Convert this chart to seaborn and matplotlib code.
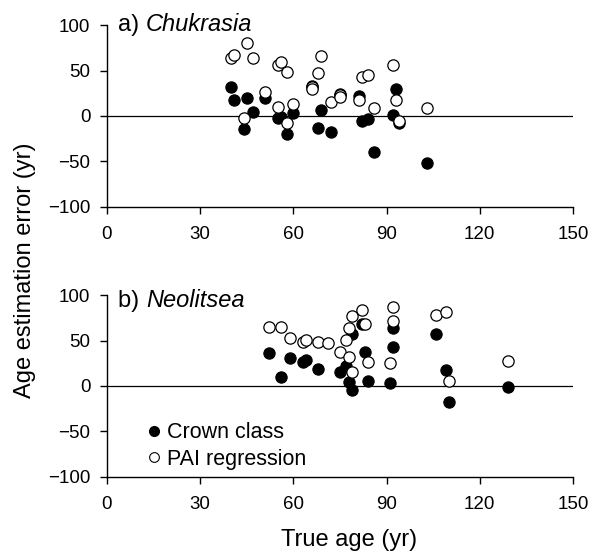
import matplotlib
matplotlib.use("Agg")
import matplotlib.pyplot as plt
import seaborn as sns
import pandas as pd
from matplotlib.lines import Line2D

# ---- data ----
chuk_crown_age = [40, 41, 44, 45, 47, 51, 55, 56, 58, 60, 66, 68, 69, 72, 75, 81, 82, 84, 86, 92, 93, 94, 103]
chuk_crown_err = [32, 18, -14, 20, 4, 20, -2, -1, -20, 3, 33, -13, 7, -18, 24, 22, -5, -3, -40, 1, 30, -8, -52]
chuk_pai_age = [40, 41, 44, 45, 47, 51, 55, 56, 58, 55, 58, 60, 66, 66, 68, 69, 72, 75, 75, 81, 82, 84, 86, 92, 93, 94, 103]
chuk_pai_err = [64, 67, -2, 81, 64, 27, 56, 60, 49, 10, -8, 13, 32, 30, 47, 66, 15, 23, 21, 18, 43, 45, 9, 56, 18, -5, 9]

neol_crown_age = [52, 56, 59, 63, 64, 68, 75, 77, 78, 79, 79, 82, 83, 84, 91, 92, 92, 106, 109, 110, 129]
neol_crown_err = [36, 10, 31, 27, 29, 19, 15, 22, 4, -4, 57, 68, 38, 5, 3, 43, 64, 57, 18, -18, -1]
neol_pai_age = [52, 56, 59, 63, 64, 68, 71, 75, 77, 78, 78, 79, 79, 82, 83, 84, 91, 92, 92, 106, 109, 110, 129]
neol_pai_err = [65, 65, 53, 48, 51, 48, 47, 37, 51, 64, 32, 77, 15, 84, 68, 27, 25, 87, 72, 78, 82, 5, 28]

panel_titles = [("a) ", "Chukrasia"), ("b) ", "Neolitsea")]
series_labels = ["Crown class", "PAI regression"]
x_ticks = [0, 30, 60, 90, 120, 150]
y_ticks = [-100, -50, 0, 50, 100]

sns.set_style("white")
plt.rcParams["font.family"] = ["Liberation Sans", "DejaVu Sans"]
plt.rcParams["text.color"] = "black"

fig = plt.figure(figsize=(5.95, 5.51), dpi=100)
axA = fig.add_axes([107/595, 1-206.7/551, 466/595, 181.4/551])
axB = fig.add_axes([107/595, 1-476.7/551, 466/595, 181.4/551])

panels = [
    (axA, chuk_crown_age, chuk_crown_err, chuk_pai_age, chuk_pai_err),
    (axB, neol_crown_age, neol_crown_err, neol_pai_age, neol_pai_err),
]

for i, (ax, ca, ce, pa, pe) in enumerate(panels):
    dc = pd.DataFrame({"age": ca, "err": ce})
    dp = pd.DataFrame({"age": pa, "err": pe})
    ax.axhline(0, color="black", lw=0.9, zorder=1)
    sns.scatterplot(data=dc, x="age", y="err", ax=ax, s=66, color="black",
                    edgecolor="black", linewidth=0.8, zorder=3, legend=False)
    sns.scatterplot(data=dp, x="age", y="err", ax=ax, s=66, color="white",
                    edgecolor="black", linewidth=0.9, zorder=4, legend=False)
    ax.set_xlim(0, 150)
    ax.set_ylim(-100, 100)
    ax.set_xticks(x_ticks)
    ax.set_yticks(y_ticks)
    ax.set_xlabel("")
    ax.set_ylabel("")
    for sp in ["top", "right"]:
        ax.spines[sp].set_visible(False)
    for sp in ["left", "bottom"]:
        ax.spines[sp].set_color("black")
        ax.spines[sp].set_linewidth(1.0)
    ax.tick_params(axis="both", direction="out", length=5, width=1.0,
                   color="black", labelsize=13.5, labelcolor="black",
                   left=True, bottom=True)
    ax.tick_params(axis="x", pad=9)
    ax.tick_params(axis="y", pad=7)
    pre, name = panel_titles[i]
    ypos = 0.969 if i == 0 else 0.937
    t = ax.text(0.024, ypos, pre, transform=ax.transAxes, fontsize=17,
                va="baseline", ha="left", color="black")
    fig.canvas.draw()
    bb = t.get_window_extent().transformed(ax.transAxes.inverted())
    ax.text(bb.x1, ypos, name, transform=ax.transAxes, fontsize=17,
            va="baseline", ha="left", style="italic", color="black")

handles = [
    Line2D([], [], marker="o", ls="", markerfacecolor="black", markeredgecolor="black", markersize=7),
    Line2D([], [], marker="o", ls="", markerfacecolor="white", markeredgecolor="black", markersize=7, markeredgewidth=0.8),
]
leg = axB.legend(handles, series_labels, loc="upper left", bbox_to_anchor=(0.078, 0.30),
                 frameon=False, fontsize=15.5, handletextpad=0.1, handlelength=1.0,
                 borderpad=0, labelspacing=0.25, borderaxespad=0)
for txt in leg.get_texts():
    txt.set_color("black")

fig.text(25/595, 1-270/551, "Age estimation error (yr)", rotation=90,
         fontsize=17, ha="center", va="center", color="black")
fig.text(349/595, 1-540/551, "True age (yr)", fontsize=17, ha="center",
         va="center", color="black")

fig.savefig("out.png", dpi=100)
